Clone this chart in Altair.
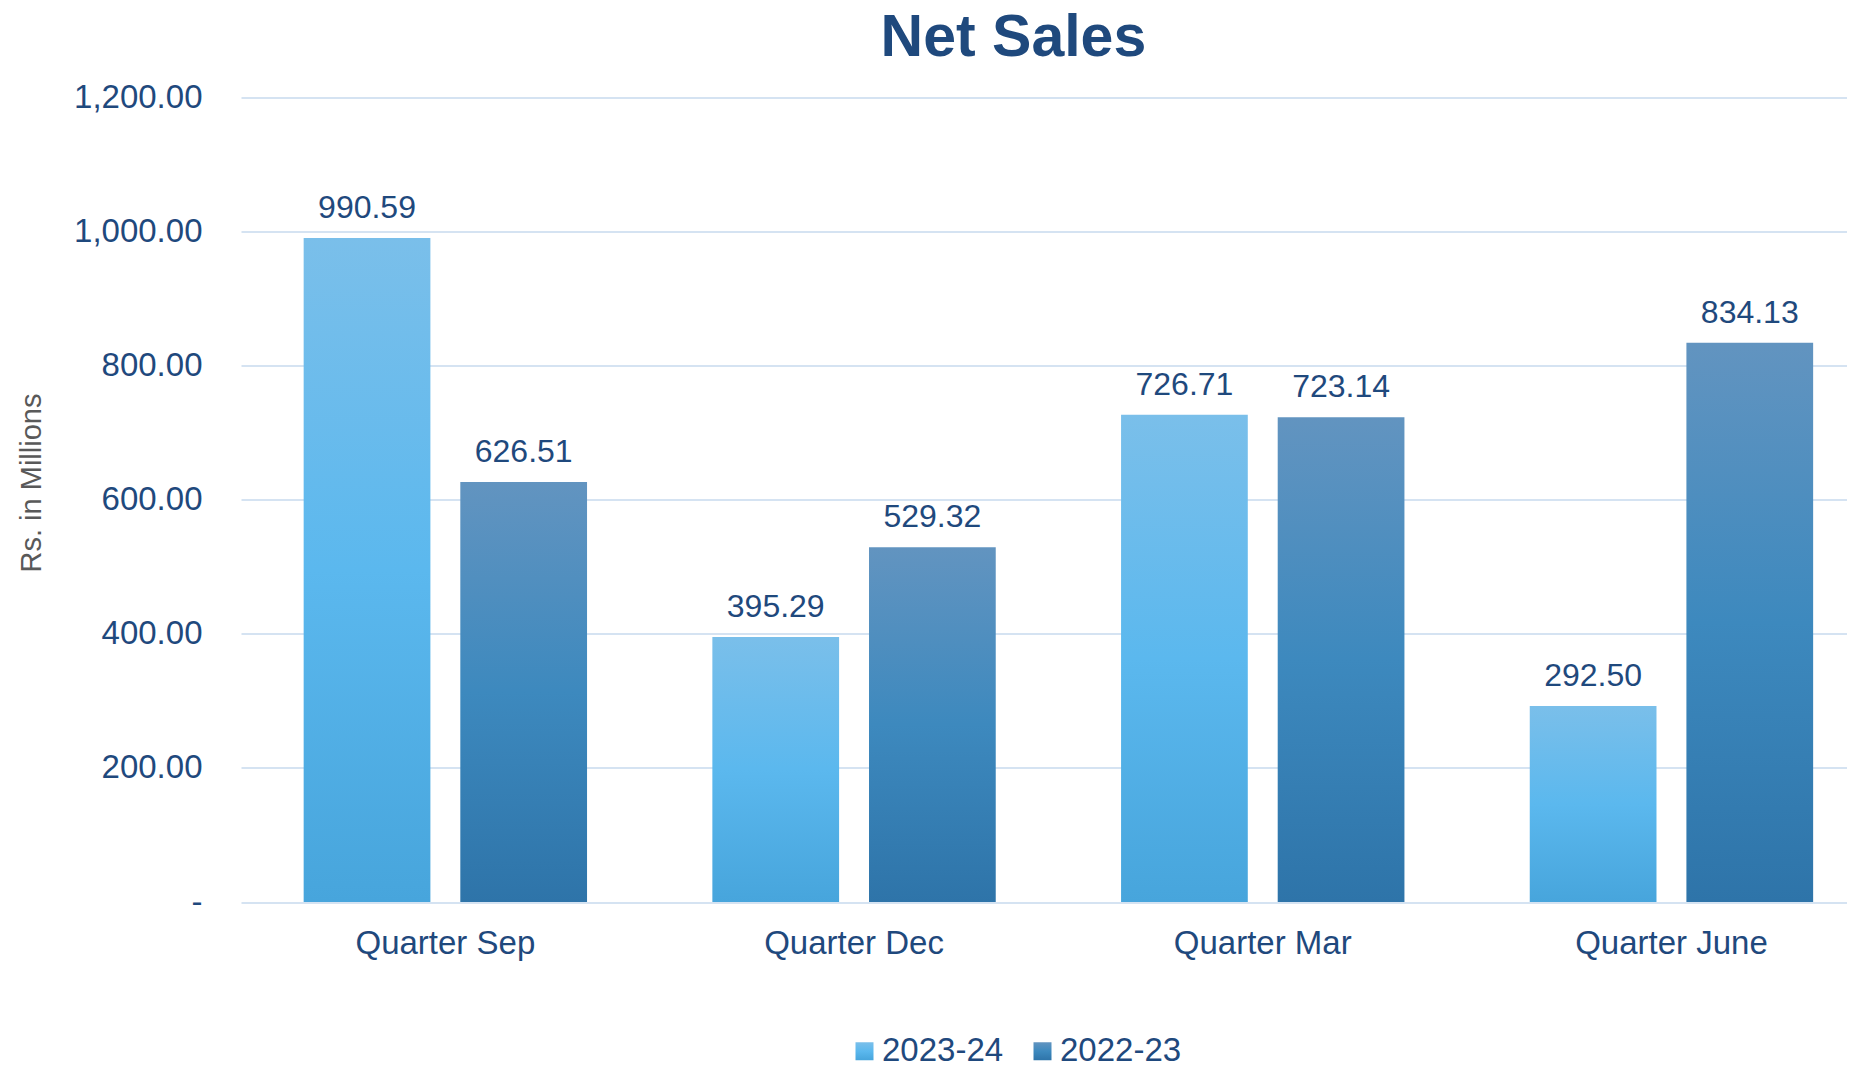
import altair as alt
import pandas as pd

quarters = ["Quarter Sep", "Quarter Dec", "Quarter Mar", "Quarter June"]
series = ["2023-24", "2022-23"]
values_2023_24 = [990.59, 395.29, 726.71, 292.50]
values_2022_23 = [626.51, 529.32, 723.14, 834.13]
y_ticks = [0, 200, 400, 600, 800, 1000, 1200]

rows = []
for q, a, b in zip(quarters, values_2023_24, values_2022_23):
    rows.append({"quarter": q, "year": series[0], "value": a})
    rows.append({"quarter": q, "year": series[1], "value": b})
df = pd.DataFrame(rows)

FONT = "Liberation Sans"
TEXT = "#1F497D"
GRID = "#D5E3F2"

grad_light = ("{gradient:'linear',x1:0,y1:0,x2:0,y2:1,stops:["
              "{offset:0,color:'#7ABFEA'},{offset:0.5,color:'#5BB8EE'},{offset:1,color:'#47A5DC'}]}")
grad_dark = ("{gradient:'linear',x1:0,y1:0,x2:0,y2:1,stops:["
             "{offset:0,color:'#6294C0'},{offset:0.5,color:'#3D89BE'},{offset:1,color:'#2E74A9'}]}")

x = alt.X(
    "quarter:N",
    sort=quarters,
    scale=alt.Scale(range=[0, 1634.8], paddingInner=0, paddingOuter=0),
    axis=alt.Axis(title=None, labelFontSize=33, labelColor=TEXT, labelFont=FONT,
                  labelPadding=25, labelLimit=0, ticks=False, tickSize=0,
                  domain=False, grid=False, labelAngle=0),
)
xo = alt.XOffset("year:N", sort=series,
                 scale=alt.Scale(domain=series, paddingInner=0.191, paddingOuter=0.4))
y = alt.Y(
    "value:Q",
    scale=alt.Scale(domain=[0, 1200], nice=False, zero=True),
    axis=alt.Axis(
        values=y_ticks,
        labelExpr="datum.value == 0 ? '-\u00a0\u00a0' : format(datum.value, ',.2f')",
        labelFontSize=33, labelColor=TEXT, labelFont=FONT, labelPadding=39,
        ticks=False, tickSize=0, domain=False,
        grid=True, gridColor=GRID, gridWidth=2,
        title="Rs. in Millions", titleFont=FONT, titleFontSize=29,
        titleFontWeight="normal", titleColor="#595959",
        titleAngle=270, titleBaseline="alphabetic", titleAlign="center",
        titleX=-201, titleY=385,
    ),
)

bars = alt.Chart(df).mark_bar().encode(
    x=x, xOffset=xo, y=y,
    color=alt.Color(
        "year:N", sort=series,
        scale=alt.Scale(domain=series, range=[{"expr": grad_light}, {"expr": grad_dark}]),
        legend=alt.Legend(
            title=None, orient="none", direction="horizontal",
            legendX=607, legendY=937,
            symbolType="square", symbolSize=324, symbolStrokeWidth=0,
            labelFont=FONT, labelFontSize=33, labelColor=TEXT,
            labelOffset=1, columnPadding=22, padding=0,
        ),
    ),
)

labels = alt.Chart(df).mark_text(
    dy=-20, baseline="alphabetic", align="center",
    font=FONT, fontSize=32, color=TEXT,
).encode(
    x=x, xOffset=xo, y=y,
    text=alt.Text("value:Q", format=",.2f"),
)

chart = alt.layer(bars, labels).properties(
    width=1606, height=804.5,
    background="white",
    title=alt.TitleParams(
        "Net Sales", font=FONT, fontSize=59, fontWeight="bold", color=TEXT,
        anchor="middle", frame="group", baseline="alphabetic", offset=14.5,
        dx=-30.6, dy=48,
    ),
    autosize=alt.AutoSizeParams(type="none"),
    padding={"left": 233, "top": 89.5, "right": 0, "bottom": 165},
).configure_view(strokeWidth=0, stroke="transparent")

chart.save("out.html", embed_options={"renderer": "svg", "actions": False})
